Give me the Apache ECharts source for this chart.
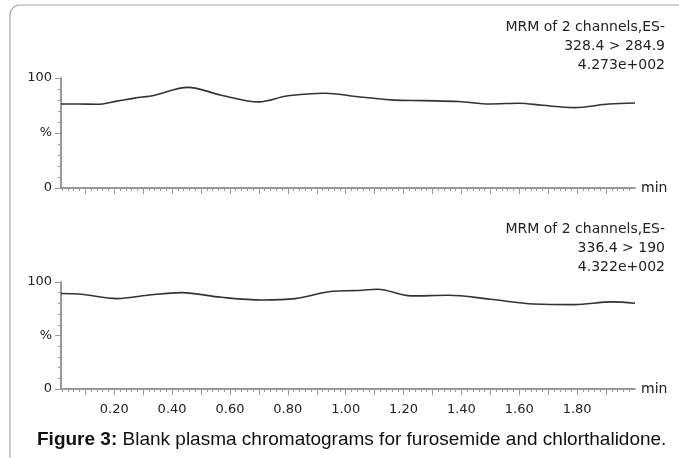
<!DOCTYPE html>
<html>
<head>
<meta charset="UTF-8">
<script src="https://cdn.jsdelivr.net/npm/echarts@6/dist/echarts.min.js"></script>
<style>
  body { margin: 0; background: #fff; }
  #chart { width: 679px; height: 458px; }
</style>
</head>
<body>
<div id="chart"></div>
<script>
// retention time (min) and relative intensity (%)
const timesTop = [0.016, 0.08, 0.14, 0.21, 0.27, 0.34, 0.454, 0.57, 0.70, 0.80, 0.93, 1.035, 1.157, 1.27, 1.39, 1.50, 1.60, 1.68, 1.79, 1.91, 2.0];
const pctTop   = [76.4, 76.3, 76.1, 79.0, 81.7, 84.4, 91.5, 84.4, 78.3, 83.8, 86.2, 83.2, 80.1, 79.4, 78.6, 76.4, 77.1, 75.2, 73.1, 76.4, 77.3];

const timesBottom = [0.016, 0.085, 0.21, 0.315, 0.433, 0.57, 0.71, 0.826, 0.955, 1.035, 1.11, 1.226, 1.355, 1.50, 1.65, 1.79, 1.92, 2.0];
const pctBottom   = [89.2, 88.5, 84.5, 87.6, 90.1, 85.7, 83.2, 84.5, 91.3, 92.0, 93.2, 87.0, 87.6, 83.9, 79.5, 78.9, 81.4, 80.1];

const xLabelValues = [0.2, 0.4, 0.6, 0.8, 1.0, 1.2, 1.4, 1.6, 1.8];
const xMajorTicks = [0.1, 0.2, 0.3, 0.4, 0.5, 0.6, 0.7, 0.8, 0.9, 1.0, 1.1, 1.2, 1.3, 1.4, 1.5, 1.6, 1.7, 1.8, 1.9];
const yLabels = { 0: '0', 50: '%', 100: '100' };

const headerTop = ['MRM of 2 channels,ES-', '328.4 > 284.9', '4.273e+002'];
const headerBottom = ['MRM of 2 channels,ES-', '336.4 > 190', '4.322e+002'];

const X_MIN = 0.016, X_MAX = 2.0;
const axisGray = '#999';
const font = 'DejaVu Sans, sans-serif';
const capFont = 'Liberation Sans, Arial, sans-serif';

// minor x ticks every 0.02 min, skipping the 0.1 positions
const xMinorTicks = [];
for (let i = 1; i < 100; i++) {
  if (i % 5 !== 0) xMinorTicks.push(+(i * 0.02).toFixed(2));
}

function pairs(xs, ys) { return xs.map((x, i) => [x, ys[i]]); }

function mainX(gridIndex, withLabels) {
  return {
    type: 'value', gridIndex, position: 'bottom', min: X_MIN, max: X_MAX,
    name: 'min', nameLocation: 'end', nameGap: 6,
    nameTextStyle: { fontFamily: font, fontSize: 14, color: '#222', padding: [8, 0, 0, 0] },
    axisLine: { show: true, lineStyle: { color: axisGray, width: 2 } },
    axisTick: { show: true, length: 6, customValues: xMajorTicks, lineStyle: { color: axisGray, width: 1 } },
    axisLabel: {
      show: withLabels, customValues: xLabelValues, margin: 14,
      formatter: v => v.toFixed(2),
      fontFamily: font, fontSize: 13, color: '#222'
    },
    splitLine: { show: false }
  };
}

function minorX(gridIndex) {
  return {
    type: 'value', gridIndex, position: 'bottom', min: X_MIN, max: X_MAX,
    axisLine: { show: false },
    axisTick: { show: true, length: 3, customValues: xMinorTicks, lineStyle: { color: axisGray, width: 1 } },
    axisLabel: { show: false },
    splitLine: { show: false }
  };
}

function yAx(gridIndex) {
  return {
    type: 'value', gridIndex, min: 0, max: 100, interval: 50,
    axisLine: { show: true, lineStyle: { color: axisGray, width: 2 } },
    axisTick: { show: true, length: 6, lineStyle: { color: axisGray, width: 1 } },
    minorTick: { show: true, splitNumber: 5, length: 3, lineStyle: { color: axisGray, width: 1 } },
    axisLabel: {
      margin: 9, formatter: v => yLabels[v] ?? '',
      fontFamily: font, fontSize: 13, color: '#222'
    },
    splitLine: { show: false }
  };
}

function header(lines, top) {
  return lines.map((t, i) => ({
    type: 'text', right: 14, top: top + i * 19,
    style: { text: t, font: '14px ' + font, fill: '#222', textAlign: 'right' }
  }));
}

const chart = echarts.init(document.getElementById('chart'), null, { renderer: 'canvas' });
chart.setOption({
  animation: false,
  backgroundColor: '#fff',
  grid: [
    { left: 61, top: 78, width: 574, height: 110 },
    { left: 61, top: 282, width: 574, height: 107 }
  ],
  xAxis: [mainX(0, false), minorX(0), mainX(1, true), minorX(1)],
  yAxis: [yAx(0), yAx(1)],
  series: [
    {
      type: 'line', xAxisIndex: 0, yAxisIndex: 0, data: pairs(timesTop, pctTop),
      smooth: 0.35, symbol: 'none', lineStyle: { color: '#333', width: 1.6 }
    },
    {
      type: 'line', xAxisIndex: 2, yAxisIndex: 1, data: pairs(timesBottom, pctBottom),
      smooth: 0.35, symbol: 'none', lineStyle: { color: '#333', width: 1.6 }
    }
  ],
  graphic: [
    {
      type: 'rect', silent: true,
      shape: { x: 10, y: 5, width: 700, height: 500, r: 10 },
      style: { fill: 'none', stroke: '#a8a8a8', lineWidth: 1.2 }
    },
    ...header(headerTop, 20),
    ...header(headerBottom, 222),
    {
      type: 'text', left: 37, top: 430,
      style: {
        rich: {
          b: { font: 'bold 19px ' + capFont, fill: '#111' },
          n: { font: '19px ' + capFont, fill: '#111' }
        },
        text: '{b|Figure 3:}{n| Blank plasma chromatograms for furosemide and chlorthalidone.}'
      }
    }
  ]
});
</script>
</body>
</html>
